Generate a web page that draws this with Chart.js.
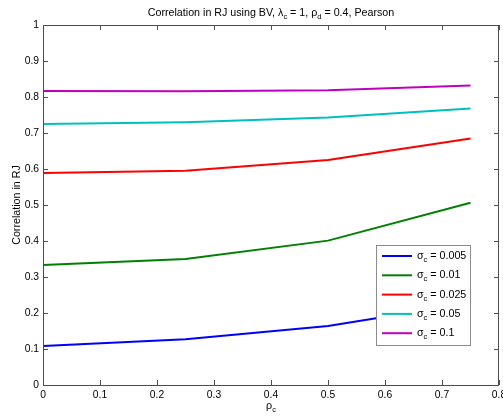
<!DOCTYPE html>
<html>
<head>
<meta charset="utf-8">
<script src="https://cdn.jsdelivr.net/npm/chart.js@4.4.1/dist/chart.umd.min.js"></script>
<style>
  html, body { margin: 0; padding: 0; background: #fff; }
  #wrap { width: 503px; height: 419px; }
</style>
</head>
<body>
<div id="wrap"><canvas id="chart" width="503" height="419"></canvas></div>
<script>
// x values (rho_c) and one array per sigma_c curve
const rhoC = [0, 0.25, 0.5, 0.75];
const sigma0005 = [0.108, 0.127, 0.164, 0.228];
const sigma001 = [0.333, 0.350, 0.401, 0.506];
const sigma0025 = [0.589, 0.595, 0.625, 0.685];
const sigma005 = [0.725, 0.730, 0.743, 0.768];
const sigma01 = [0.817, 0.816, 0.819, 0.832];

// labels use "_x" for a one-char subscript, like matlab's tex
const seriesLabels = ["σ_c = 0.005", "σ_c = 0.01", "σ_c = 0.025", "σ_c = 0.05", "σ_c = 0.1"];
const seriesColors = ["#0000ff", "#008000", "#ff0000", "#00bfbf", "#bf00bf"];
const titleText = "Correlation in RJ using BV, λ_c = 1, ρ_d = 0.4, Pearson";
const xLabel = "ρ_c";
const yLabel = "Correlation in RJ";

const FONT = '"Liberation Sans", Arial, sans-serif';
const TEXT_SIZE = 10.7;
const SUB_SIZE = 7.5;
const AXIS_COLOR = "#4d4d4d";

function toPoints(ys) {
  return rhoC.map((x, i) => ({ x: x, y: ys[i] }));
}

// split "σ_c = 1" into normal and subscript parts
function parseRich(text) {
  const parts = [];
  for (let i = 0; i < text.length; i++) {
    if (text[i] === "_" && i + 1 < text.length) {
      parts.push({ t: text[i + 1], sub: true });
      i++;
    } else if (parts.length && !parts[parts.length - 1].sub) {
      parts[parts.length - 1].t += text[i];
    } else {
      parts.push({ t: text[i], sub: false });
    }
  }
  return parts;
}

function partFont(p) {
  return (p.sub ? SUB_SIZE : TEXT_SIZE) + "px " + FONT;
}

function richWidth(ctx, text) {
  let w = 0;
  parseRich(text).forEach((p) => {
    ctx.font = partFont(p);
    w += ctx.measureText(p.t).width;
  });
  return w;
}

function drawRich(ctx, text, x, y, align) {
  const w = richWidth(ctx, text);
  let cx = align === "center" ? x - w / 2 : x;
  ctx.textAlign = "left";
  ctx.textBaseline = "alphabetic";
  parseRich(text).forEach((p) => {
    ctx.font = partFont(p);
    ctx.fillText(p.t, cx, p.sub ? y + 3 : y);
    cx += ctx.measureText(p.t).width;
  });
}

// matlab style box, inward ticks, title, axis labels and legend
const matlabPlugin = {
  id: "matlabAxes",
  afterDraw(chart) {
    const ctx = chart.ctx;
    const a = chart.chartArea;
    const xs = chart.scales.x;
    const ys = chart.scales.y;
    ctx.save();
    ctx.strokeStyle = AXIS_COLOR;
    ctx.lineWidth = 1;
    ctx.strokeRect(a.left + 0.5, a.top + 0.5, a.right - a.left - 1, a.bottom - a.top);
    ctx.beginPath();
    xs.ticks.forEach((t) => {
      const px = Math.round(xs.getPixelForValue(t.value)) + 0.5;
      ctx.moveTo(px, a.bottom); ctx.lineTo(px, a.bottom - 5);
      ctx.moveTo(px, a.top); ctx.lineTo(px, a.top + 5);
    });
    ys.ticks.forEach((t) => {
      const py = Math.round(ys.getPixelForValue(t.value)) + 0.5;
      ctx.moveTo(a.left, py); ctx.lineTo(a.left + 5, py);
      ctx.moveTo(a.right, py); ctx.lineTo(a.right - 5, py);
    });
    ctx.stroke();

    ctx.fillStyle = "#000";
    const midX = (a.left + a.right) / 2;
    drawRich(ctx, titleText, midX, 16, "center");
    drawRich(ctx, xLabel, midX, 409, "center");

    ctx.save();
    ctx.translate(20, (a.top + a.bottom) / 2);
    ctx.rotate(-Math.PI / 2);
    ctx.font = TEXT_SIZE + "px " + FONT;
    ctx.textAlign = "center";
    ctx.textBaseline = "alphabetic";
    ctx.fillText(yLabel, 0, 0);
    ctx.restore();

    // legend
    const ds = chart.data.datasets;
    let maxW = 0;
    ds.forEach((d) => { maxW = Math.max(maxW, richWidth(ctx, d.label)); });
    const boxW = Math.round(41 + maxW + 4);
    const boxH = 100;
    const right = a.right - 29;
    const bottom = a.bottom - 40;
    const left = right - boxW;
    const top = bottom - boxH;
    ctx.fillStyle = "#fff";
    ctx.fillRect(left, top, boxW, boxH);
    ctx.strokeStyle = "#8c8c8c";
    ctx.lineWidth = 1;
    ctx.strokeRect(left + 0.5, top + 0.5, boxW, boxH);
    ds.forEach((d, i) => {
      const cy = top + 11 + i * 19.3;
      ctx.strokeStyle = d.borderColor;
      ctx.lineWidth = 2;
      ctx.beginPath();
      ctx.moveTo(left + 6, cy);
      ctx.lineTo(left + 36, cy);
      ctx.stroke();
      ctx.fillStyle = "#000";
      drawRich(ctx, d.label, left + 41, cy + 3);
    });
    ctx.restore();
  },
};

const allSeries = [sigma0005, sigma001, sigma0025, sigma005, sigma01];

// plain tick text, "1" not "1.0"
function tickText(value) {
  return String(+value.toFixed(2));
}

new Chart(document.getElementById("chart").getContext("2d"), {
  type: "line",
  data: {
    datasets: allSeries.map((ys, i) => ({
      label: seriesLabels[i],
      data: toPoints(ys),
      borderColor: seriesColors[i],
      backgroundColor: seriesColors[i],
      borderWidth: 2,
      pointRadius: 0,
      tension: 0,
      fill: false,
    })),
  },
  options: {
    responsive: false,
    animation: false,
    layout: { padding: { top: 25, right: 4, left: 0, bottom: 0 } },
    plugins: {
      legend: { display: false },
      title: { display: false },
      tooltip: { enabled: false },
    },
    scales: {
      x: {
        type: "linear",
        min: 0,
        max: 0.8,
        grid: { display: false, drawTicks: false },
        border: { display: false },
        ticks: {
          stepSize: 0.1,
          padding: 4,
          maxRotation: 0,
          autoSkip: false,
          color: "#000",
          font: { family: FONT, size: 10.3 },
          callback: tickText,
        },
        afterFit(scale) {
          scale.height = 34;
          scale.paddingLeft = 0;
          scale.paddingRight = 0;
        },
      },
      y: {
        min: 0,
        max: 1,
        grid: { display: false, drawTicks: false },
        border: { display: false },
        ticks: {
          stepSize: 0.1,
          padding: 4,
          color: "#000",
          font: { family: FONT, size: 10.3 },
          callback: tickText,
        },
        afterFit(scale) {
          scale.width = 43;
          scale.paddingTop = 0;
          scale.paddingBottom = 0;
        },
      },
    },
  },
  plugins: [matlabPlugin],
});
</script>
</body>
</html>
